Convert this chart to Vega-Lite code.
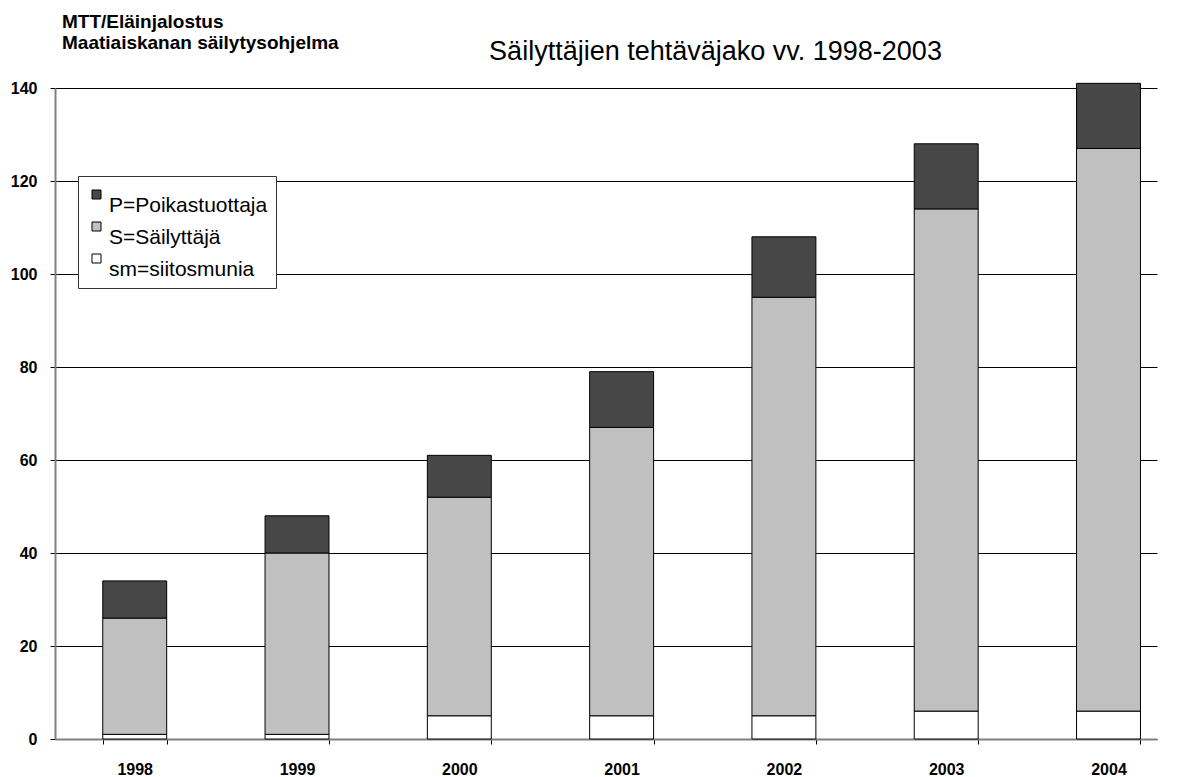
{
  "$schema": "https://vega.github.io/schema/vega-lite/v6.json",
  "width": 1102,
  "height": 651,
  "autosize": {"type": "none"},
  "padding": {"left": 55, "top": 88, "right": 29, "bottom": 38},
  "background": "white",
  "config": {
    "view": {"stroke": null},
    "font": "Liberation Sans"
  },
  "title": {
    "text": ["MTT/Eläinjalostus", "Maatiaiskanan säilytysohjelma"],
    "font": "Liberation Sans",
    "fontSize": 19,
    "fontWeight": "bold",
    "color": "black",
    "anchor": "start",
    "frame": "group",
    "lineHeight": 21,
    "dx": 7,
    "dy": 20,
    "offset": 4
  },
  "data": {
    "values": [
      {"vuosi": "1998", "ryhma": "sm=siitosmunia", "maara": 1},
      {"vuosi": "1998", "ryhma": "S=Säilyttäjä", "maara": 25},
      {"vuosi": "1998", "ryhma": "P=Poikastuottaja", "maara": 8},
      {"vuosi": "1999", "ryhma": "sm=siitosmunia", "maara": 1},
      {"vuosi": "1999", "ryhma": "S=Säilyttäjä", "maara": 39},
      {"vuosi": "1999", "ryhma": "P=Poikastuottaja", "maara": 8},
      {"vuosi": "2000", "ryhma": "sm=siitosmunia", "maara": 5},
      {"vuosi": "2000", "ryhma": "S=Säilyttäjä", "maara": 47},
      {"vuosi": "2000", "ryhma": "P=Poikastuottaja", "maara": 9},
      {"vuosi": "2001", "ryhma": "sm=siitosmunia", "maara": 5},
      {"vuosi": "2001", "ryhma": "S=Säilyttäjä", "maara": 62},
      {"vuosi": "2001", "ryhma": "P=Poikastuottaja", "maara": 12},
      {"vuosi": "2002", "ryhma": "sm=siitosmunia", "maara": 5},
      {"vuosi": "2002", "ryhma": "S=Säilyttäjä", "maara": 90},
      {"vuosi": "2002", "ryhma": "P=Poikastuottaja", "maara": 13},
      {"vuosi": "2003", "ryhma": "sm=siitosmunia", "maara": 6},
      {"vuosi": "2003", "ryhma": "S=Säilyttäjä", "maara": 108},
      {"vuosi": "2003", "ryhma": "P=Poikastuottaja", "maara": 14},
      {"vuosi": "2004", "ryhma": "sm=siitosmunia", "maara": 6},
      {"vuosi": "2004", "ryhma": "S=Säilyttäjä", "maara": 121},
      {"vuosi": "2004", "ryhma": "P=Poikastuottaja", "maara": 14}
    ]
  },
  "mark": {"type": "bar", "stroke": "black", "strokeWidth": 1},
  "encoding": {
    "x": {
      "field": "vuosi",
      "type": "ordinal",
      "scale": {"paddingInner": 0.606, "paddingOuter": 0.198, "align": 0.743},
      "axis": {
        "title": null,
        "labelAngle": 0,
        "tickBand": "extent",
        "ticks": true,
        "tickSize": 5,
        "tickColor": "black",
        "domainColor": "#808080",
        "domainWidth": 2,
        "labelFont": "Liberation Sans",
        "labelFontSize": 16,
        "labelFontWeight": "bold",
        "labelColor": "black",
        "labelPadding": 17,
        "grid": false
      }
    },
    "y": {
      "field": "maara",
      "type": "quantitative",
      "stack": "zero",
      "scale": {"domain": [0, 140], "nice": false},
      "axis": {
        "values": [0, 20, 40, 60, 80, 100, 120, 140],
        "grid": true,
        "gridColor": "black",
        "gridWidth": 1,
        "domainColor": "#808080",
        "domainWidth": 2,
        "tickColor": "black",
        "tickSize": 5,
        "labelFont": "Liberation Sans",
        "labelFontSize": 16,
        "labelFontWeight": "bold",
        "labelColor": "black",
        "labelPadding": 13,
        "title": "Säilyttäjien tehtäväjako vv. 1998-2003",
        "titleFont": "Liberation Sans",
        "titleFontSize": 27,
        "titleFontWeight": "normal",
        "titleColor": "black",
        "titleAngle": 0,
        "titleAlign": "center",
        "titleBaseline": "alphabetic",
        "titleX": 660,
        "titleY": -29
      }
    },
    "color": {
      "field": "ryhma",
      "type": "nominal",
      "scale": {
        "domain": ["P=Poikastuottaja", "S=Säilyttäjä", "sm=siitosmunia"],
        "range": ["#474747", "#c0c0c0", "#ffffff"]
      },
      "legend": {
        "title": null,
        "orient": "none",
        "legendX": 23,
        "legendY": 88,
        "direction": "vertical",
        "fillColor": "white",
        "strokeColor": "#333333",
        "padding": 8,
        "symbolType": "square",
        "symbolSize": 81,
        "symbolStrokeColor": "black",
        "symbolStrokeWidth": 1,
        "labelFont": "Liberation Sans",
        "labelFontSize": 21,
        "labelColor": "black",
        "labelBaseline": "top",
        "labelOffset": 2,
        "labelLimit": 300,
        "rowPadding": 0
      }
    },
    "order": {"field": "ryhma", "sort": "descending"}
  }
}
